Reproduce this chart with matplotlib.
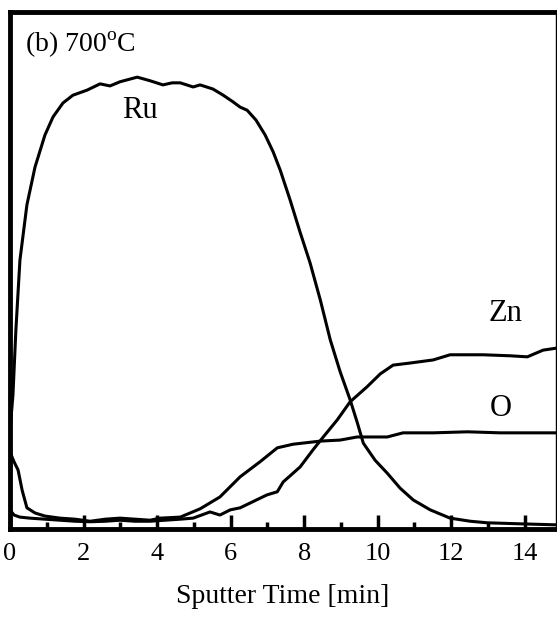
import matplotlib
matplotlib.use('Agg')
import matplotlib.pyplot as plt
from matplotlib.ticker import MultipleLocator

plt.rcParams['font.family'] = ['Liberation Serif', 'DejaVu Serif']
plt.rcParams['mathtext.fontset'] = 'custom'
plt.rcParams['mathtext.rm'] = 'Liberation Serif'

# depth profile (arbitrary intensity units, 0-100)
ru_t = [0, 0.08, 0.16, 0.27, 0.46, 0.68, 0.95, 1.17, 1.44, 1.71, 2.10, 2.45, 2.72, 2.99,
        3.46, 3.81, 4.16, 4.41, 4.63, 4.98, 5.17, 5.52, 5.80, 6.07, 6.26, 6.45, 6.69,
        6.94, 7.16, 7.35, 7.62, 7.89, 8.16, 8.44, 8.71, 8.98, 9.25, 9.44, 9.61, 9.93,
        10.26, 10.61, 10.97, 11.43, 11.97, 12.52, 12.98, 13.88, 14.88]
ru_v = [19.1, 25.9, 38.5, 52.0, 62.7, 70.0, 76.2, 79.7, 82.4, 83.9, 84.9, 86.1, 85.7, 86.5,
        87.4, 86.7, 85.9, 86.3, 86.3, 85.5, 85.9, 85.1, 83.9, 82.6, 81.6, 81.0, 79.1,
        76.2, 72.9, 69.4, 63.6, 57.4, 51.5, 44.3, 36.6, 30.4, 25.0, 20.7, 16.6, 13.3,
        10.8, 7.9, 5.6, 3.7, 2.1, 1.5, 1.2, 1.0, 0.8]

o_t = [0, 0.11, 0.22, 0.33, 0.46, 0.68, 0.95, 1.36, 1.77, 2.18, 2.59, 2.99, 3.40, 3.81,
       4.08, 4.63, 5.17, 5.71, 6.26, 6.80, 7.27, 7.70, 8.44, 8.98, 9.44, 10.26, 10.69,
       11.51, 12.44, 13.33, 14.88]
o_v = [14.9, 13.0, 11.4, 7.5, 4.1, 3.1, 2.5, 2.1, 1.9, 1.5, 1.9, 2.1, 1.9, 1.7,
       2.1, 2.3, 3.9, 6.2, 10.1, 13.0, 15.7, 16.4, 17.0, 17.2, 17.8, 17.8, 18.6,
       18.6, 18.8, 18.6, 18.6]

zn_t = [0, 0.11, 0.27, 0.54, 0.95, 1.36, 1.77, 2.18, 2.59, 2.99, 3.40, 3.81, 4.22, 4.63,
        4.98, 5.44, 5.71, 5.99, 6.26, 6.99, 7.27, 7.43, 7.89, 8.24, 8.52, 8.90, 9.25,
        9.71, 10.07, 10.42, 10.88, 11.51, 11.97, 12.87, 13.61, 14.07, 14.50, 14.88]
zn_v = [3.7, 2.7, 2.3, 2.1, 1.9, 1.7, 1.5, 1.4, 1.5, 1.7, 1.5, 1.5, 1.7, 1.9,
        2.1, 3.3, 2.7, 3.7, 4.1, 6.6, 7.2, 9.1, 12.0, 15.3, 17.8, 21.1, 24.6,
        27.5, 30.0, 31.7, 32.1, 32.7, 33.7, 33.7, 33.5, 33.3, 34.6, 35.0]

W, H = 557, 618
fig = plt.figure(figsize=(W / 100, H / 100), dpi=100)
ax = fig.add_axes([10 / W, (H - 529) / H, 546 / W, 517 / H])

for t, v in [(ru_t, ru_v), (o_t, o_v), (zn_t, zn_v)]:
    ax.plot(t, v, color='black', lw=2.2, solid_joinstyle='round')

ax.set_xlim(0, 14.85)
ax.set_ylim(0, 100)

# element labels
ax.text(3.54, 81.0, 'Ru', fontsize=22, ha='center', va='center')
ax.text(13.47, 41.6, 'Zn', fontsize=22, ha='center', va='center')
ax.text(13.36, 23.4, 'O', fontsize=22, ha='center', va='center')
ax.text(0.41, 92.3, '(b) 700$^{\\mathrm{o}}$C', fontsize=20, ha='left', va='baseline')

ax.xaxis.set_major_locator(MultipleLocator(2))
ax.xaxis.set_minor_locator(MultipleLocator(1))
ax.tick_params(axis='x', which='major', direction='in', length=10, width=2.5,
               labelsize=19, pad=10)
ax.tick_params(axis='x', which='minor', direction='in', length=5, width=2.5)
ax.set_yticks([])
ax.set_xlabel('Sputter Time [min]', fontsize=20, labelpad=14)

for side in ['left', 'top', 'bottom']:
    ax.spines[side].set_linewidth(3.5)
ax.spines['right'].set_linewidth(1)

fig.savefig('out.png', dpi=100)
